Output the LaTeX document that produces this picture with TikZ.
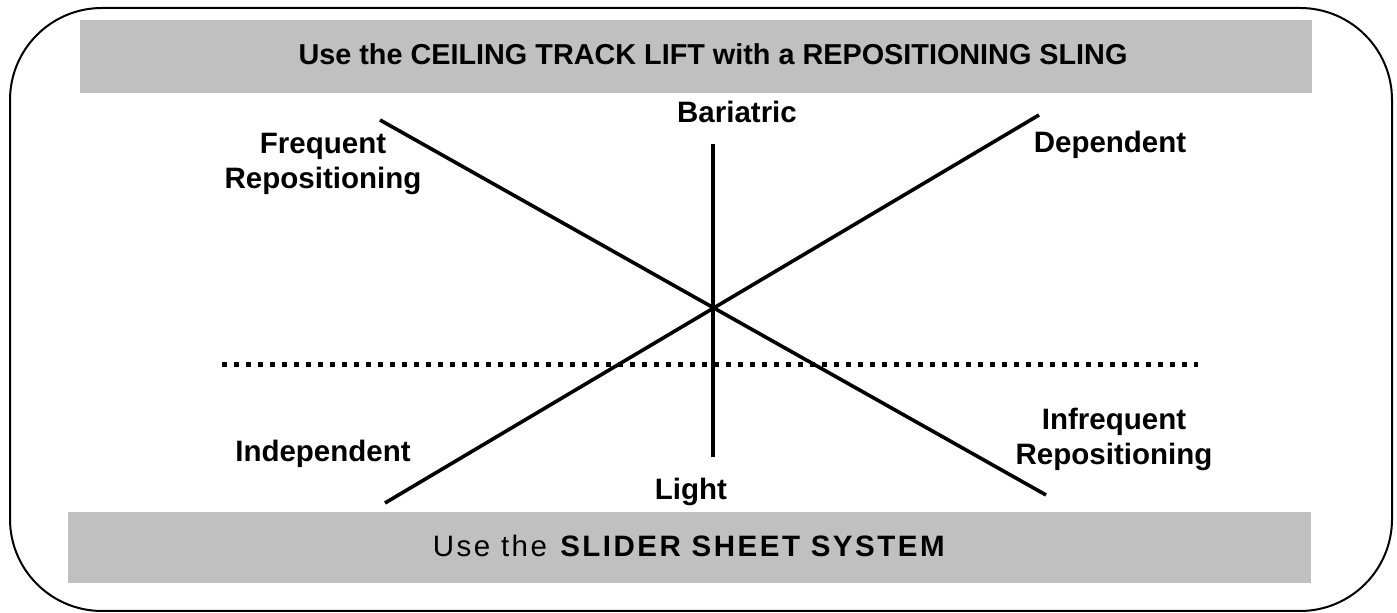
\documentclass[tikz,border=0pt]{standalone}
\usepackage{fontspec}
\setmainfont{Liberation Sans}
\usepackage{tikz}
\definecolor{cBanner}{RGB}{192,192,192}
\tikzset{
	banner/.style={fill=cBanner, draw=none},
	frame/.style={draw=black, line width=1pt, rounded corners=46pt},
	lbl/.style={inner sep=0pt, align=center, font=\fontsize{14.75}{17.5}\selectfont\bfseries},
	title/.style={inner sep=0pt, font=\fontsize{14.4}{17}\selectfont\bfseries},
	spaced/.style={inner sep=0pt, font=\fontsize{14.75}{17}\selectfont\addfontfeatures{LetterSpace=8.5}},
	axis/.style={line width=1.8pt},
	split/.style={line width=2.5pt, dash pattern=on 2.5pt off 3.5pt},
}

\begin{document}
\begin{tikzpicture}[x=0.5pt, y=-0.5pt]
	\useasboundingbox (0,0) rectangle (1397,613);
	% frame and the two banners
	\draw[frame] (10,8) rectangle (1392,611);
	\fill[banner] (80,20) rectangle (1312,93);
	\fill[banner] (68,512) rectangle (1311,583);
	\node[title, anchor=base] (ceiling) at (713,65) {Use the CEILING TRACK LIFT with a REPOSITIONING SLING};
	\node[spaced, anchor=base] (slider) at (690,557) {Use the \textbf{SLIDER SHEET SYSTEM}};
	% ends of the three scales
	\coordinate (freq) at (380,120);
	\coordinate (infreq) at (1046,495);
	\coordinate (indep) at (385,503);
	\coordinate (dep) at (1039,115);
	\coordinate (heavy) at (713,144);
	\coordinate (light) at (713,457);
	\coordinate (splitL) at (222,365);
	\coordinate (splitR) at (1198,365);
	\draw[axis] (freq) -- (infreq);
	\draw[axis] (indep) -- (dep);
	\draw[axis] (heavy) -- (light);
	\draw[split] (splitL) -- (splitR);
	% labels
	\node[lbl, anchor=base] (heavylbl) at (737,123) {Bariatric};
	\node[lbl, anchor=base] (lightlbl) at (691,500) {Light};
	\node[lbl, anchor=base] (deplbl) at (1110,153) {Dependent};
	\node[lbl, anchor=base] (indeplbl) at (323,462) {Independent};
	\node[lbl, anchor=north] (freqlbl) at (323,133) {Frequent\\Repositioning};
	\node[lbl, anchor=north] (infreqlbl) at (1114,408) {Infrequent\\Repositioning};
\end{tikzpicture}
\end{document}
